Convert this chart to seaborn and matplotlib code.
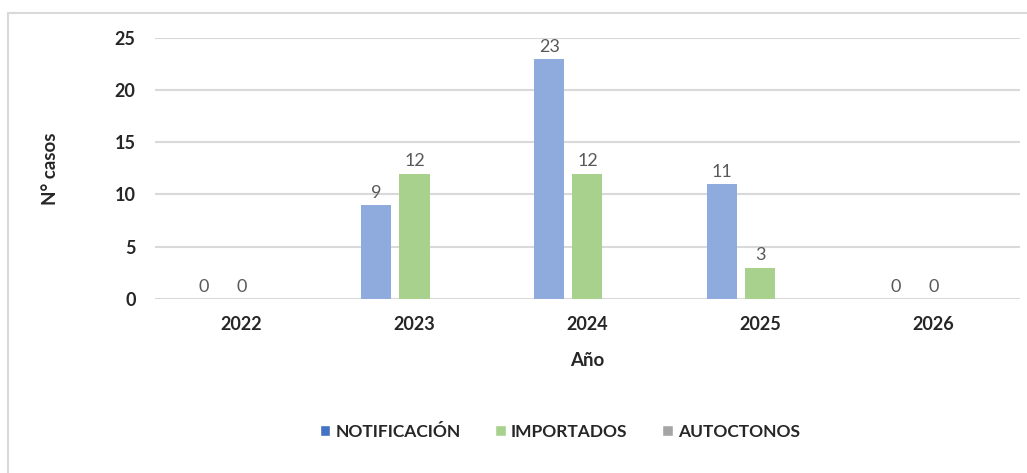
import pandas as pd
import seaborn as sns
import matplotlib.pyplot as plt
from matplotlib.patches import Rectangle, Patch

sns.set_style("white")
plt.rcParams['font.family'] = ['Lato', 'DejaVu Sans']

years = ['2022', '2023', '2024', '2025', '2026']
series = ['NOTIFICACIÓN', 'IMPORTADOS', 'AUTOCTONOS']
notificacion = [0, 9, 23, 11, 0]
importados = [0, 12, 12, 3, 0]
autoctonos = [0, 0, 0, 0, 0]

bar_colors = ['#8FAADC', '#A9D18E', '#A5A5A5']
legend_colors = ['#4472C4', '#A9D18E', '#A5A5A5']

df = pd.DataFrame({
    'Año': years * 3,
    'casos': notificacion + importados + autoctonos,
    'serie': [s for s in series for _ in years],
})

fig = plt.figure(figsize=(10.27, 4.73), dpi=100)
ax = fig.add_axes([0.151, 0.368, 0.842, 0.552])

# outer chart frame (only left/top visible in the reference)
fig.patches.append(Rectangle((0.0078, -0.1), 1.2, 1.0725, transform=fig.transFigure,
                             fill=False, edgecolor='#d9d9d9', linewidth=1.5))

sns.barplot(data=df, x='Año', y='casos', hue='serie', palette=bar_colors,
            saturation=1, linewidth=0, width=0.66, gap=0.21, ax=ax, legend=False)

# labels only for the first two series
for cont in ax.containers[:2]:
    ax.bar_label(cont, padding=3, fontsize=13, color='#595959')

ax.set_ylim(0, 25)
ax.set_yticks([0, 5, 10, 15, 20, 25])
ax.yaxis.grid(True, color='#d9d9d9', linewidth=1.5)
ax.set_axisbelow(True)
sns.despine(ax=ax, left=True, bottom=True)
ax.tick_params(axis='x', length=0, labelsize=13, pad=12)
ax.tick_params(axis='y', length=0, labelsize=13, pad=14)
for lbl in ax.get_xticklabels() + ax.get_yticklabels():
    lbl.set_fontweight('bold')

ax.set_xlabel('Año', fontsize=13.5, fontweight='bold', labelpad=14)
ax.set_ylabel('N° casos', fontsize=13.5, fontweight='bold', labelpad=40)

handles = [Patch(facecolor=c, label=s) for c, s in zip(legend_colors, series)]
fig.legend(handles=handles, loc='center', bbox_to_anchor=(0.545, 0.087), ncol=3,
           frameon=False, handlelength=0.6, handleheight=0.6,
           handletextpad=0.3, columnspacing=2.0, prop={'weight': 'bold', 'size': 12.5})

fig.savefig('out.png', dpi=100)
